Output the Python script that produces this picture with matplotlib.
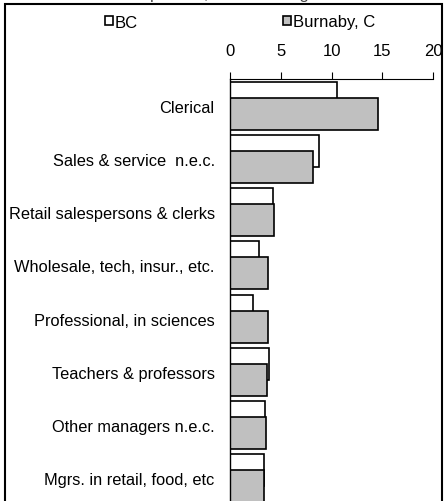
import matplotlib
matplotlib.use('Agg')
import matplotlib.pyplot as plt
from matplotlib.patches import Patch, Rectangle
import numpy as np

plt.rcParams['font.family'] = ['Liberation Sans', 'DejaVu Sans']
plt.rcParams['font.size'] = 12

# ---------------------------------------------------------------#
# Data (percent of employed labour force)
# ---------------------------------------------------------------#
categories = ['Clerical', 'Sales & service  n.e.c.', 'Retail salespersons & clerks',
              'Wholesale, tech, insur., etc.', 'Professional, in sciences',
              'Teachers & professors', 'Other managers n.e.c.',
              'Mgrs. in retail, food, etc']
bc = [10.5, 8.8, 4.2, 2.9, 2.3, 3.8, 3.4, 3.35]
burnaby = [14.6, 8.2, 4.3, 3.75, 3.7, 3.6, 3.55, 3.35]
series_names = ['BC', 'Burnaby, C']
x_ticks = [0, 5, 10, 15, 20]

# ---------------------------------------------------------------#
# Plot
# ---------------------------------------------------------------#
W, H = 446, 502
fig = plt.figure(figsize=(W / 100, H / 100), dpi=100)

ax_top, ax_bot = 80, 506
ax = fig.add_axes([230 / W, (H - ax_bot) / H, 203 / W, (ax_bot - ax_top) / H])

pos = np.arange(len(categories))
ax.barh(pos - 0.15, bc, height=0.6, color='white', edgecolor='black', linewidth=1.2)
ax.barh(pos + 0.15, burnaby, height=0.6, color='#c0c0c0', edgecolor='black', linewidth=1.2)

ax.set_xlim(0, 20)
ax.set_ylim(len(categories) - 0.5, -0.5)
ax.set_xticks(x_ticks)
ax.set_yticks(pos)
ax.set_yticklabels(categories)
ax.xaxis.tick_top()
ax.tick_params(axis='x', direction='out', length=5, width=0.8, pad=10, labelsize=12)
ax.tick_params(axis='y', length=0, pad=11, labelsize=11.8)
for s in ['right', 'bottom']:
    ax.spines[s].set_visible(False)
ax.spines['top'].set_linewidth(0.8)
ax.spines['left'].set_linewidth(1.0)

# legend
handles = [Patch(facecolor='white', edgecolor='black', linewidth=1.2),
           Patch(facecolor='#c0c0c0', edgecolor='black', linewidth=1.2)]
fig.legend(handles, series_names, loc='center', bbox_to_anchor=(240 / W, 1 - 23 / H),
           ncol=2, frameon=False, handlelength=0.5, handleheight=0.5,
           handletextpad=0.1, columnspacing=8.7, fontsize=12)

# outer frame and clipped title
fig.patches.append(Rectangle((5 / W, -0.1), 437 / W, 0.1 + 1 - 4.5 / H,
                             transform=fig.transFigure, fill=False,
                             edgecolor='black', linewidth=1.5))
fig.text(228 / W, 1 + 1 / H, 'Occupations, % of working total', ha='center',
         va='baseline', fontsize=12, color='#444444')

plt.savefig('out.png', dpi=100)
